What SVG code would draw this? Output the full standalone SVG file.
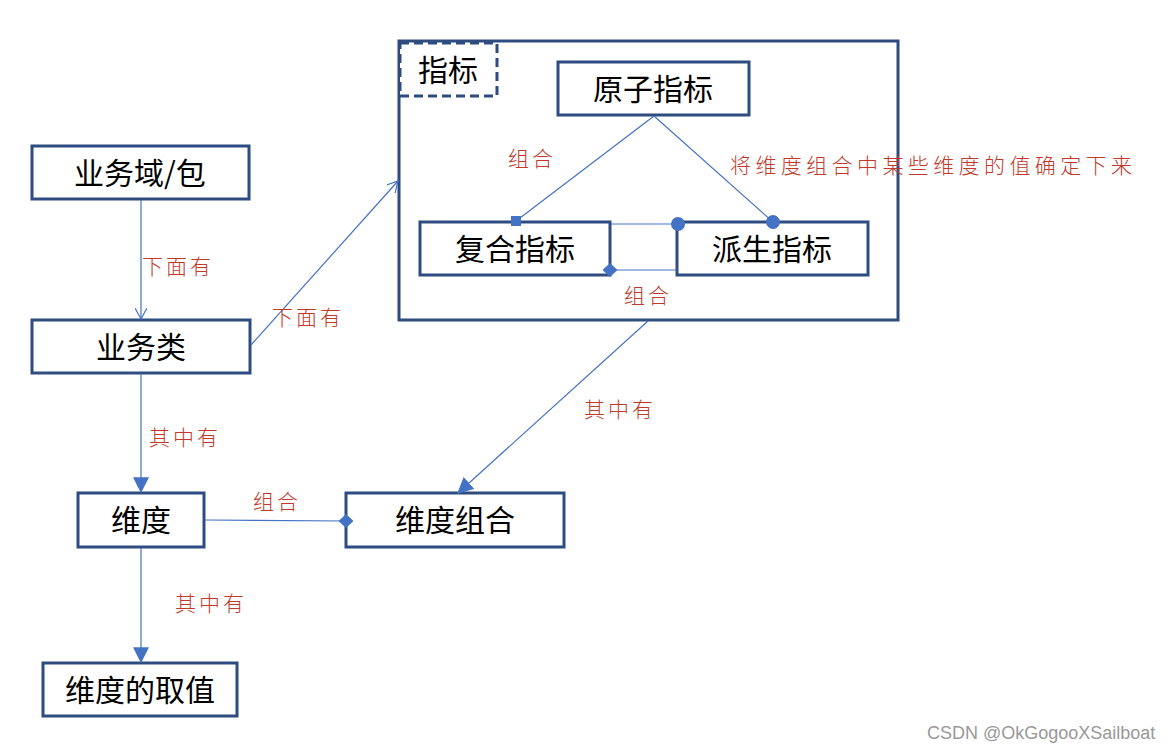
<svg xmlns="http://www.w3.org/2000/svg" width="1176" height="752" viewBox="0 0 1176 752">
<style>
.box{fill:#fff;stroke:#2F4C80;stroke-width:3}
.t{font-family:"Noto Sans CJK SC","Noto Sans",sans-serif;font-size:30px;fill:#000;text-anchor:middle;dominant-baseline:central}
.lbl{font-family:"Noto Sans CJK SC","Noto Sans",sans-serif;font-size:21px;font-weight:300;fill:#C0392B;letter-spacing:3px;dominant-baseline:central}
.c{stroke:#4472C4;stroke-width:1.2;fill:none}
.wm{font-family:"Liberation Sans",sans-serif;font-size:18px;fill:#999}
</style>
<defs>
<marker id="open" viewBox="0 0 12 12" refX="11" refY="6" markerWidth="12" markerHeight="12" markerUnits="userSpaceOnUse" orient="auto"><path d="M0,0 L11,6 L0,12" fill="none" stroke="#4472C4" stroke-width="1.2"/></marker>
<marker id="tri" viewBox="0 0 14 14" refX="13" refY="7" markerWidth="16" markerHeight="16" markerUnits="userSpaceOnUse" orient="auto"><path d="M0,0 L14,7 L0,14 Z" fill="#4472C4"/></marker>
<marker id="diaS" viewBox="0 0 14 14" refX="7" refY="7" markerWidth="15" markerHeight="15" markerUnits="userSpaceOnUse" orient="auto"><path d="M0,7 L7,0.5 L14,7 L7,13.5 Z" fill="#4472C4"/></marker>
<marker id="dot" viewBox="0 0 14 14" refX="7" refY="7" markerWidth="14" markerHeight="14" markerUnits="userSpaceOnUse" orient="auto"><circle cx="7" cy="7" r="7" fill="#4472C4"/></marker>
<marker id="sq" viewBox="0 0 10 10" refX="5" refY="5" markerWidth="10" markerHeight="10" markerUnits="userSpaceOnUse"><rect x="0" y="0" width="10" height="10" fill="#4472C4"/></marker>
</defs>

<g id="container-zhibiao">
<rect class="box" x="399" y="41" width="499" height="279"/>
<rect x="400" y="43" width="97" height="53" fill="#fff" stroke="#2F4C80" stroke-width="3" stroke-dasharray="9,5"/>
<text class="t" x="448" y="68">指标</text>
</g>

<g id="node-yewuyu">
<rect class="box" x="32" y="146" width="217" height="53"/>
<text class="t" x="140" y="171">业务域/包</text>
</g>
<g id="node-yewulei">
<rect class="box" x="32" y="320" width="218" height="53"/>
<text class="t" x="141" y="345">业务类</text>
</g>
<g id="node-weidu">
<rect class="box" x="78" y="493" width="126" height="54"/>
<text class="t" x="141" y="518">维度</text>
</g>
<g id="node-weiduzuhe">
<rect class="box" x="346" y="493" width="218" height="54"/>
<text class="t" x="455" y="518">维度组合</text>
</g>
<g id="node-weiduquzhi">
<rect class="box" x="43" y="663" width="194" height="53"/>
<text class="t" x="140" y="688">维度的取值</text>
</g>
<g id="node-yuanzi">
<rect class="box" x="558" y="62" width="191" height="53"/>
<text class="t" x="653" y="87">原子指标</text>
</g>
<g id="node-fuhe">
<rect class="box" x="420" y="222" width="190" height="53"/>
<text class="t" x="515" y="247">复合指标</text>
</g>
<g id="node-paisheng">
<rect class="box" x="677" y="222" width="191" height="53"/>
<text class="t" x="772" y="247">派生指标</text>
</g>

<g id="connectors">
<line class="c" x1="141" y1="200" x2="141" y2="319" marker-end="url(#open)"/>
<line class="c" x1="251" y1="345" x2="398" y2="181" marker-end="url(#open)"/>
<line class="c" x1="141" y1="374" x2="141" y2="492" marker-end="url(#tri)"/>
<line class="c" x1="141" y1="548" x2="141" y2="662" marker-end="url(#tri)"/>
<line class="c" x1="205" y1="520" x2="346" y2="521" marker-end="url(#diaS)"/>
<line class="c" x1="648" y1="321" x2="458" y2="493" marker-end="url(#tri)"/>
<line class="c" x1="654" y1="116" x2="516" y2="221" marker-end="url(#sq)"/>
<line class="c" x1="654" y1="116" x2="773" y2="222" marker-end="url(#dot)"/>
<line class="c" x1="611" y1="224" x2="678" y2="224" marker-end="url(#dot)"/>
<line class="c" x1="677" y1="270" x2="610" y2="270" marker-end="url(#diaS)"/>
</g>

<g id="labels">
<text class="lbl" x="142" y="265">下面有</text>
<text class="lbl" x="272" y="316">下面有</text>
<text class="lbl" x="149" y="436">其中有</text>
<text class="lbl" x="175" y="602">其中有</text>
<text class="lbl" x="253" y="500">组合</text>
<text class="lbl" x="584" y="408">其中有</text>
<text class="lbl" x="508" y="157">组合</text>
<text class="lbl" x="730" y="164" style="letter-spacing:4.4px">将维度组合中某些维度的值确定下来</text>
<text class="lbl" x="624" y="294">组合</text>
</g>

<text class="wm" x="927" y="739">CSDN @OkGogooXSailboat</text>
</svg>
